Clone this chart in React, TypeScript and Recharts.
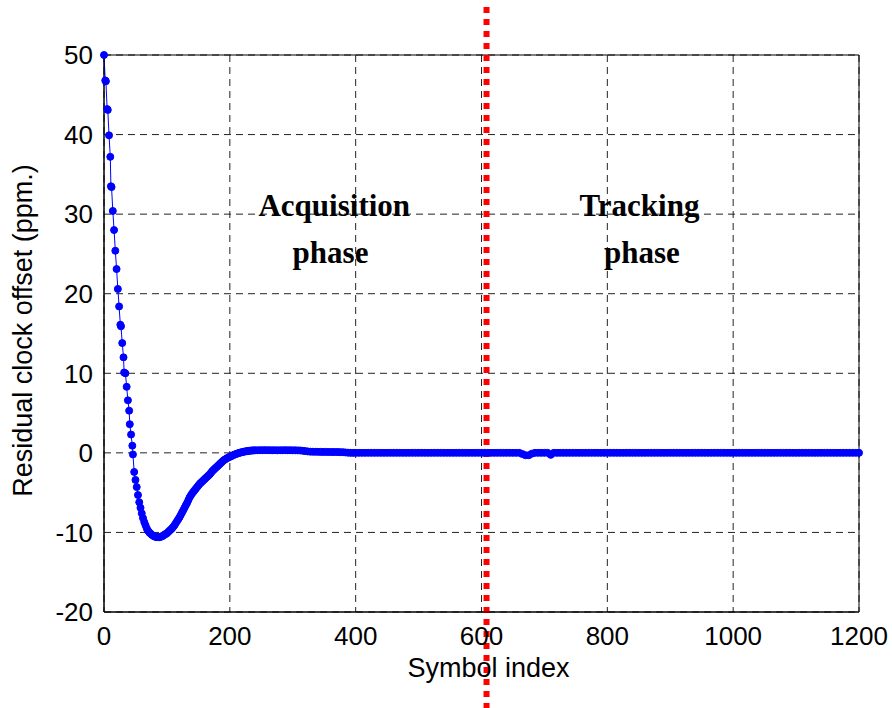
import { LineChart, Line, XAxis, YAxis, CartesianGrid, ReferenceLine, ReferenceDot, ReferenceArea } from "recharts";

// acquisition ramp, read point by point
const rampSymbols = [0, 2, 3, 5, 6, 8, 10, 11, 12, 14, 16, 18, 20, 22, 24, 26, 27, 29, 31, 32, 34, 36, 38, 40, 41, 43, 45, 46];
const rampOffset = [50, 46.8, 46.7, 43.2, 43.1, 39.9, 37.2, 33.5, 33.4, 30.4, 28.0, 25.4, 23.1, 20.6, 18.4, 16.1, 15.9, 13.8, 12.0, 10.1, 10.0, 8.3, 6.6, 5.3, 3.6, 2.3, 0.9, -0.2];

// undershoot, one value every 2 symbols from 48 to 240
const dipStart = 48;
const dipStep = 2;
const dipOffset = [
  -2.4, -3.4, -4.3, -5.3, -6.2, -6.9, -7.6, -8.2, -8.7, -9.1,
  -9.5, -9.8, -10.0, -10.15, -10.3, -10.4, -10.5, -10.55, -10.6, -10.6,
  -10.6, -10.55, -10.5, -10.4, -10.3, -10.2, -10.1, -9.95, -9.8, -9.65,
  -9.5, -9.3, -9.1, -8.85, -8.6, -8.35, -8.1, -7.8, -7.5, -7.2,
  -6.9, -6.6, -6.3, -5.95, -5.6, -5.35, -5.1, -4.9, -4.7, -4.5,
  -4.3, -4.1, -3.9, -3.75, -3.6, -3.45, -3.3, -3.15, -3.0, -2.85,
  -2.7, -2.5, -2.3, -2.15, -2.0, -1.85, -1.7, -1.55, -1.4, -1.25,
  -1.1, -0.95, -0.85, -0.75, -0.65, -0.57, -0.5, -0.42, -0.35, -0.27,
  -0.2, -0.14, -0.08, -0.03, 0.02, 0.06, 0.1, 0.14, 0.17, 0.2,
  0.22, 0.25, 0.27, 0.29, 0.3, 0.31, 0.32,
];

// small overshoot, one value every 4 symbols from 244 to 396
const settleStart = 244;
const settleStep = 4;
const settleOffset = [
  0.33, 0.33, 0.34, 0.34, 0.34, 0.33, 0.33, 0.33, 0.32, 0.33,
  0.33, 0.34, 0.33, 0.33, 0.32, 0.32, 0.31, 0.3, 0.26, 0.22,
  0.18, 0.15, 0.14, 0.13, 0.13, 0.12, 0.12, 0.12, 0.11, 0.11,
  0.1, 0.1, 0.1, 0.09, 0.08, 0.05, 0.02, 0, 0,
];

// tracking, one value every 5 symbols from 400
const trackStart = 400;
const trackStep = 5;
const trackOffset = [
  0, 0, 0, 0, 0, 0, 0, 0, 0, 0, 0, 0, 0, 0, 0, 0, 0, 0, 0, 0,
  0, 0, 0, 0, 0, 0, 0, 0, 0, 0, 0, 0, 0, 0, 0, 0, 0, 0, 0, 0,
  0, 0, 0, 0, 0, 0, 0, 0, 0, 0, 0, 0, 0, -0.15, -0.3, -0.3, -0.1, 0, 0, 0,
  0, 0, -0.25, 0, 0, 0, 0, 0, 0, 0, 0, 0, 0, 0, 0, 0, 0, 0, 0, 0,
  0, 0, 0, 0, 0, 0, 0, 0, 0, 0, 0, 0, 0, 0, 0, 0, 0, 0, 0, 0,
  0, 0, 0, 0, 0, 0, 0, 0, 0, 0, 0, 0, 0, 0, 0, 0, 0, 0, 0, 0,
  0, 0, 0, 0, 0, 0, 0, 0, 0, 0, 0, 0, 0, 0, 0, 0, 0, 0, 0, 0,
  0, 0, 0, 0, 0, 0, 0, 0, 0, 0, 0, 0, 0, 0, 0, 0, 0, 0, 0, 0,
  0,
];

const xTicks = [0, 200, 400, 600, 800, 1000, 1200];
const yTicks = [-20, -10, 0, 10, 20, 30, 40, 50];
const phaseBoundary = 608;

const data = [
  ...rampSymbols.map((s, i) => ({ symbol: s, offset: rampOffset[i] })),
  ...dipOffset.map((v, i) => ({ symbol: dipStart + i * dipStep, offset: v })),
  ...settleOffset.map((v, i) => ({ symbol: settleStart + i * settleStep, offset: v })),
  ...trackOffset.map((v, i) => ({ symbol: trackStart + i * trackStep, offset: v })),
];

const sans = "'Liberation Sans', Arial, sans-serif";
const serif = "'Liberation Serif', 'Times New Roman', serif";

const phaseText = (text: string) => (p: any) => (
  <text
    x={p.viewBox.x + (p.viewBox.width || 0) / 2}
    y={p.viewBox.y + (p.viewBox.height || 0) / 2}
    textAnchor="middle"
    dominantBaseline="central"
    fontFamily={serif}
    fontWeight="bold"
    fontSize={31}
    fill="#000"
  >
    {text}
  </text>
);

export default function App() {
  return (
    <div style={{ position: "absolute", left: 0, top: 0, background: "#fff" }}>
      <LineChart
        width={892}
        height={708}
        data={data}
        margin={{ top: 55, right: 33, bottom: 0, left: 0 }}
      >
        <CartesianGrid stroke="#222" strokeDasharray="7 5" />
        <ReferenceArea x1={0} x2={1200} y1={-20} y2={50} fill="none" stroke="#000" strokeWidth={1} />
        <XAxis
          type="number"
          dataKey="symbol"
          domain={[0, 1200]}
          ticks={xTicks}
          height={96}
          tickLine={false}
          tickSize={6}
          tickMargin={9}
          axisLine={{ stroke: "#000" }}
          tick={{ fontSize: 26, fill: "#000", fontFamily: sans }}
          label={{
            content: (p: any) => (
              <text
                x={p.viewBox.x + p.viewBox.width / 2 + 7}
                y={p.viewBox.y + 65}
                textAnchor="middle"
                fontFamily={sans}
                fontSize={27}
                fill="#000"
              >
                Symbol index
              </text>
            ),
          }}
        />
        <YAxis
          type="number"
          domain={[-20, 50]}
          ticks={yTicks}
          width={104}
          tickLine={false}
          tickSize={6}
          tickMargin={5}
          axisLine={{ stroke: "#000" }}
          tick={{ fontSize: 26, fill: "#000", fontFamily: sans }}
          label={{
            content: (p: any) => {
              const cx = p.viewBox.x + 32;
              const cy = p.viewBox.y + p.viewBox.height / 2 - 3;
              return (
                <text
                  x={cx}
                  y={cy}
                  transform={`rotate(-90 ${cx} ${cy})`}
                  textAnchor="middle"
                  fontFamily={sans}
                  fontSize={27}
                  fill="#000"
                >
                  Residual clock offset (ppm.)
                </text>
              );
            },
          }}
        />
        <Line
          type="linear"
          dataKey="offset"
          stroke="#0000ff"
          strokeWidth={1}
          dot={{ r: 3.5, fill: "#0000ff", stroke: "#0000ff", strokeWidth: 1 }}
          isAnimationActive={false}
        />
        <ReferenceLine
          x={phaseBoundary}
          stroke="#ff0000"
          shape={(p: any) => (
            <line
              x1={p.x1}
              x2={p.x2}
              y1={Math.min(p.y1, p.y2) - 48}
              y2={Math.max(p.y1, p.y2) + 96}
              stroke="#ff0000"
              strokeWidth={6}
              strokeDasharray="6 6"
            />
          )}
        />
        <ReferenceDot x={366} y={31.1} r={0} fill="none" stroke="none" label={{ content: phaseText("Acquisition") }} />
        <ReferenceDot x={360} y={25.2} r={0} fill="none" stroke="none" label={{ content: phaseText("phase") }} />
        <ReferenceDot x={851} y={31.1} r={0} fill="none" stroke="none" label={{ content: phaseText("Tracking") }} />
        <ReferenceDot x={855} y={25.2} r={0} fill="none" stroke="none" label={{ content: phaseText("phase") }} />
      </LineChart>
    </div>
  );
}
